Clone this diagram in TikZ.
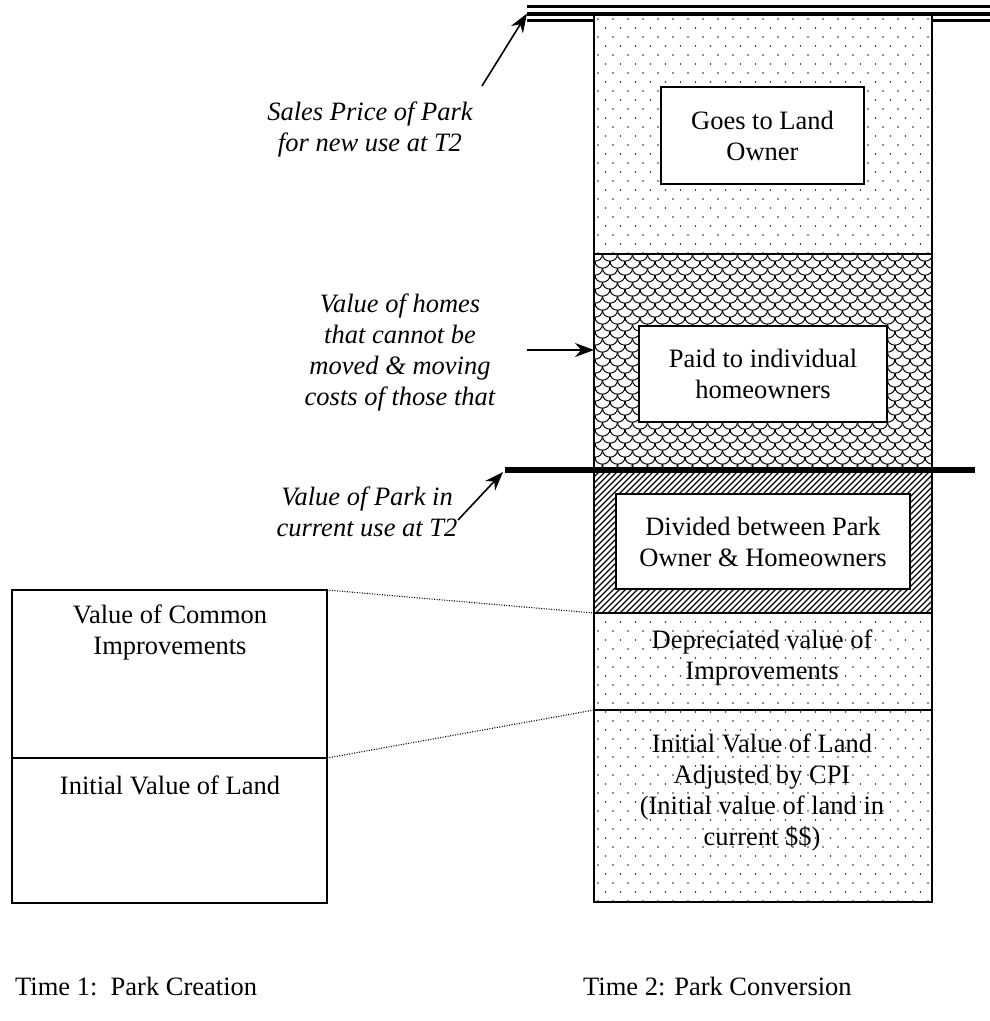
\documentclass[tikz,border=0pt]{standalone}
\usepackage{fontspec}
\setmainfont{Liberation Serif}
\usetikzlibrary{arrows.meta}
\begin{document}
\begin{tikzpicture}[x=1pt,y=-1pt,
  lab/.style={font=\fontsize{26.5pt}{31pt}\selectfont, align=center, inner sep=0pt},
  ital/.style={lab, font=\fontsize{26.5pt}{31pt}\selectfont\itshape},
  box/.style={lab, draw, line width=1.6pt, fill=white},
  edge/.style={line width=1.6pt},
  arr/.style={line width=1.6pt, -{Stealth[length=19pt,width=14pt]}},
  dotline/.style={line width=1.1pt, dash pattern=on 1pt off 1.5pt}]
\useasboundingbox (0,0) rectangle (990,1021);
% dots over the column
\begin{scope}
  \clip (594,15) rectangle (932,902);
  \foreach \y in {19,37,...,901} \foreach \x in {598,613,...,932} \fill[black!85] (\x,\y) circle (0.8pt);
  \foreach \y in {28,46,...,901} \foreach \x in {605.5,620.5,...,932} \fill[black!85] (\x,\y) circle (0.8pt);
\end{scope}
\fill[white] (594,254) rectangle (932,613);
% scale pattern
\begin{scope}
  \clip (594,254) rectangle (932,470);
  \foreach \k in {0,...,32} {
    \pgfmathsetmacro\yy{247+7*\k}
    \pgfmathsetmacro\yb{\yy+9.5}
    \pgfmathsetmacro\off{mod(\k,2)*7.5}
    \foreach \i in {0,...,23} {
      \pgfmathsetmacro\xa{580+\off+15*\i}
      \pgfmathsetmacro\xc{\xa+15}
      \draw[line width=1pt] (\xa,\yy) .. controls (\xa,\yb) and (\xc,\yb) .. (\xc,\yy);
    }
  }
\end{scope}
% diagonal hatching
\begin{scope}
  \clip (594,470) rectangle (932,613);
  \foreach \c in {440,446,...,940} \draw[line width=1.1pt] (\c,613) -- (\c+143,470);
\end{scope}
% column outline and dividers
\coordinate (ctl) at (594,15);
\coordinate (cbr) at (932,902);
\draw[edge] (ctl) rectangle (cbr);
\draw[edge] (594,254) -- (932,254) (594,613) -- (932,613) (594,710) -- (932,710);
% top triple line
\coordinate (sp) at (527,13.5);
\draw[line width=3pt] (527,6.5) -- (990,6.5);
\draw[line width=4pt] (sp) -- (990,13.5);
\draw[line width=2.5pt] (527,20.5) -- (594,20.5) (932,20.5) -- (990,20.5);
% thick current-use line
\coordinate (cu) at (505,470);
\draw[line width=6pt] (cu) -- (975,470);
% boxes in column
\node[box, minimum width=203pt, minimum height=97pt] (goes) at (762.5,135.5) {Goes to Land\\Owner};
\node[box, minimum width=248pt, minimum height=96pt] (paid) at (763,374) {Paid to individual\\homeowners};
\node[box, minimum width=294pt, minimum height=95pt] (div) at (763,541.5) {Divided between Park\\Owner \& Homeowners};
\node[lab] (dep) at (762,657) {Depreciated value of\\Improvements};
\node[lab] (land) at (762,792) {Initial Value of Land\\Adjusted by CPI\\(Initial value of land in\\current \$\$)};
% left boxes
\coordinate (ltl) at (12,590);
\coordinate (lbr) at (327,903);
\coordinate (lmr) at (327,758);
\coordinate (ltr) at (327,590);
\draw[edge] (ltl) rectangle (lbr);
\draw[edge] (12,758) -- (lmr);
\node[lab] (common) at (170,632) {Value of Common\\Improvements};
\node[lab] (initial) at (170,785) {Initial Value of Land};
% dotted connectors
\coordinate (cdep) at (594,613);
\coordinate (cland) at (594,710);
\draw[dotline] (ltr) -- (cdep);
\draw[dotline] (lmr) -- (cland);
% left labels and arrows
\node[ital] (sales) at (370,129) {Sales Price of Park\\for new use at T2};
\node[ital] (homes) at (400,352) {Value of homes\\that cannot be\\moved \& moving\\costs of those that};
\node[ital] (curr) at (367,512) {Value of Park in\\current use at T2};
\coordinate (sa) at (482,86);
\coordinate (ha) at (527,350);
\coordinate (hb) at (594,350);
\coordinate (ca) at (458,520);
\coordinate (cb) at (503,472);
\draw[arr] (sa) -- (sp);
\draw[arr] (ha) -- (hb);
\draw[arr] (ca) -- (cb);
% bottom captions
\node[lab, anchor=base west] (t1) at (15,995) {Time 1:\ \ Park Creation};
\node[lab, anchor=base west] (t2) at (583,995) {Time 2: Park Conversion};
\end{tikzpicture}
\end{document}
